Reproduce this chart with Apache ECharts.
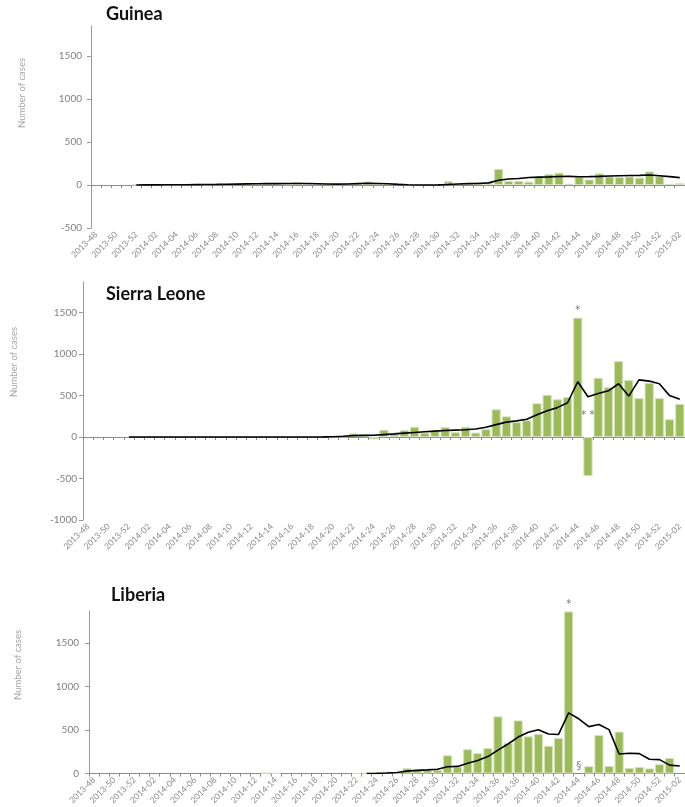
<!DOCTYPE html>
<html>
<head>
<meta charset="utf-8">
<script src="https://cdn.jsdelivr.net/npm/echarts@6/dist/echarts.min.js"></script>
<style>
  html, body { margin: 0; padding: 0; background: #fff; }
  #chart { width: 685px; height: 807px; }
</style>
</head>
<body>
<div id="chart"></div>
<script>
// Epidemiological weeks on the category axis
const weeks = [
  '2013-48','2013-49','2013-50','2013-51','2013-52',
  '2014-01','2014-02','2014-03','2014-04','2014-05','2014-06','2014-07','2014-08','2014-09','2014-10',
  '2014-11','2014-12','2014-13','2014-14','2014-15','2014-16','2014-17','2014-18','2014-19','2014-20',
  '2014-21','2014-22','2014-23','2014-24','2014-25','2014-26','2014-27','2014-28','2014-29','2014-30',
  '2014-31','2014-32','2014-33','2014-34','2014-35','2014-36','2014-37','2014-38','2014-39','2014-40',
  '2014-41','2014-42','2014-43','2014-44','2014-45','2014-46','2014-47','2014-48','2014-49','2014-50',
  '2014-51','2014-52','2015-01','2015-02'
];

// Weekly new cases (bars) and trend line, per country
const guineaCases = [
  null, null, null, null, 2, 3, 2, 4, 3, 5, 4, 6, 8, 10, 12,
  20, 14, 18, 12, 10, 35, 22, 16, 10, 8, 10, 14, 40, 26, 12,
  20, 8, 3, 6, 10, 43, 18, 24, 35, 28, 187, 47, 47, 39, 96,
  127, 143, 14, 96, 64, 135, 100, 92, 100, 86, 158, 103, 14, 20
];
const guineaTrend = [
  null, null, null, null, 1, 2, 2, 3, 3, 4, 5, 6, 7, 9, 11,
  13, 15, 16, 16, 18, 18, 17, 15, 12, 10, 12, 16, 20, 18, 14,
  8, 4, 1, 1, 2, 6, 12, 16, 18, 25, 55, 70, 76, 88, 92,
  95, 100, 101, 96, 98, 101, 105, 108, 110, 112, 116, 108, 98, 86
];

const sierraLeoneCases = [
  null, null, null, null, null, null, null, null, null, null, null, null, null, null, null,
  null, null, null, null, null, null, null, null, null, 2, 8, 44, 32, -28, 88,
  34, 84, 124, 52, 76, 120, 58, 124, 54, 96, 335, 250, 181, 203, 408,
  510, 456, 482, 1440, -470, 715, 600, 916, 687, 470, 655, 470, 215, 400
];
const sierraLeoneTrend = [
  null, null, null, null, 1, 1, 1, 1, 1, 1, 1, 1, 1, 1, 1,
  1, 1, 1, 1, 1, 1, 1, 1, 2, 4, 10, 18, 20, 22, 30,
  38, 48, 56, 64, 72, 80, 84, 88, 98, 118, 150, 180, 195, 215, 270,
  317, 355, 414, 667, 486, 526, 558, 643, 494, 690, 675, 643, 500, 455
];

const liberiaCases = [
  null, null, null, null, null, null, null, null, null, null, null, null, null, null, null,
  null, null, 8, 3, null, null, null, null, null, null, null, 3, 5, 8, 22,
  10, 61, 48, 40, 44, 210, 80, 279, 235, 294, 658, 353, 611, 428, 456,
  319, 410, 1865, null, 84, 443, 88, 483, 65, 75, 59, 107, 180, null
];
const liberiaTrend = [
  null, null, null, null, null, null, null, null, null, null, null, null, null, null, null,
  null, null, null, null, null, null, null, null, null, null, null, null, 1, 2, 6,
  12, 28, 36, 42, 50, 78, 82, 118, 150, 195, 270, 340, 420, 475, 505,
  455, 450, 698, 630, 540, 565, 505, 225, 233, 229, 164, 160, 97, 86
];

// Footnote marks: [week, value, mark, placement]
const sierraLeoneNotes = [['2014-44', 1440, '*', 'top'], ['2014-45', 265, '* *', 'inside']];
const liberiaNotes = [['2014-43', 1865, '*', 'top'], ['2014-44', 85, '\u00a7', 'inside']];

const yTicks = {
  guinea: [-500, 0, 500, 1000, 1500],
  sierraLeone: [-1000, -500, 0, 500, 1000, 1500],
  liberia: [0, 500, 1000, 1500]
};

const panels = [
  { name: 'Guinea', cases: guineaCases, trend: guineaTrend, notes: [], ticks: yTicks.guinea,
    min: -500, max: 1850, grid: { left: 91, top: 26, width: 600, height: 202 },
    title: { left: 106, top: 5 }, yName: { x: 22, y: 93 }, labelMargin: 9 },
  { name: 'Sierra Leone', cases: sierraLeoneCases, trend: sierraLeoneTrend, notes: sierraLeoneNotes, ticks: yTicks.sierraLeone,
    min: -1000, max: 1870, grid: { left: 83, top: 282, width: 611, height: 238 },
    title: { left: 106, top: 285 }, yName: { x: 13.5, y: 362 }, labelMargin: 6 },
  { name: 'Liberia', cases: liberiaCases, trend: liberiaTrend, notes: liberiaNotes, ticks: yTicks.liberia,
    min: 0, max: 1870, grid: { left: 89, top: 611, width: 599, height: 163 },
    title: { left: 111, top: 586 }, yName: { x: 18, y: 665 }, labelMargin: 10 }
];

const font = 'Lato';
const axisGrey = '#9a9a9a';
const labelGrey = '#808080';

const option = {
  animation: false,
  backgroundColor: '#ffffff',
  title: [], grid: [], xAxis: [], yAxis: [], series: [], graphic: []
};

panels.forEach((p, g) => {
  option.title.push({
    text: p.name, left: p.title.left, top: p.title.top, padding: 0,
    textStyle: { fontFamily: font, fontWeight: 'bold', fontSize: 18, color: '#111' }
  });
  option.grid.push(Object.assign({ containLabel: false }, p.grid));

  // Axis line with category ticks, sitting on the zero value
  option.xAxis.push({
    type: 'category', gridIndex: g, data: weeks, position: 'bottom', boundaryGap: true,
    axisLine: { show: true, onZero: true, lineStyle: { color: '#8c8c8c', width: 1 } },
    axisTick: { show: true, interval: 0, length: 3, lineStyle: { color: '#8c8c8c' } },
    axisLabel: { show: false }, splitLine: { show: false }
  });
  // Week labels along the bottom of the plot
  option.xAxis.push({
    type: 'category', gridIndex: g, data: weeks, position: 'bottom', boundaryGap: true,
    axisLine: { show: false, onZero: false }, axisTick: { show: false },
    axisLabel: { show: true, interval: 1, rotate: 45, margin: 5, fontSize: 8.5, fontFamily: font, color: '#8a8a8a' },
    splitLine: { show: false }
  });

  option.yAxis.push({
    type: 'value', gridIndex: g, min: p.min, max: p.max, interval: 500,
    axisLine: { show: true, lineStyle: { color: axisGrey } },
    axisTick: { show: true, length: 4, customValues: p.ticks, lineStyle: { color: axisGrey } },
    axisLabel: {
      customValues: p.ticks, margin: p.labelMargin, fontSize: 10, fontFamily: font, color: labelGrey,
      formatter: v => (v % 500 === 0 ? String(v) : '')
    },
    splitLine: { show: false }
  });

  const xi = g * 2;
  option.series.push({
    type: 'bar', xAxisIndex: xi, yAxisIndex: g, data: p.cases,
    barCategoryGap: '10%',
    itemStyle: { color: '#9bbb59', borderColor: '#d5e1bc', borderWidth: 1 }
  });
  option.series.push({
    type: 'line', xAxisIndex: xi, yAxisIndex: g, data: p.trend,
    symbol: 'none', showSymbol: false, connectNulls: false, z: 5,
    lineStyle: { color: '#000', width: 1.6 }, itemStyle: { color: '#000' }
  });
  if (p.notes.length) {
    option.series.push({
      type: 'scatter', xAxisIndex: xi, yAxisIndex: g, symbolSize: 1, z: 6,
      itemStyle: { color: 'rgba(0,0,0,0)' },
      data: p.notes.map(n => ({
        value: [n[0], n[1], n[2]],
        label: { position: n[3], distance: 2 }
      })),
      label: {
        show: true, formatter: q => q.value[2], fontSize: 10, fontFamily: 'DejaVu Sans', color: '#555'
      }
    });
  }

  option.graphic.push({
    type: 'text', x: p.yName.x, y: p.yName.y, rotation: Math.PI / 2,
    style: {
      text: 'Number of cases', fill: '#a6a6a6', fontSize: 9.5, fontFamily: font,
      align: 'center', verticalAlign: 'middle'
    }
  });
});

const chart = echarts.init(document.getElementById('chart'), null, { renderer: 'canvas' });
chart.setOption(option);
</script>
</body>
</html>
